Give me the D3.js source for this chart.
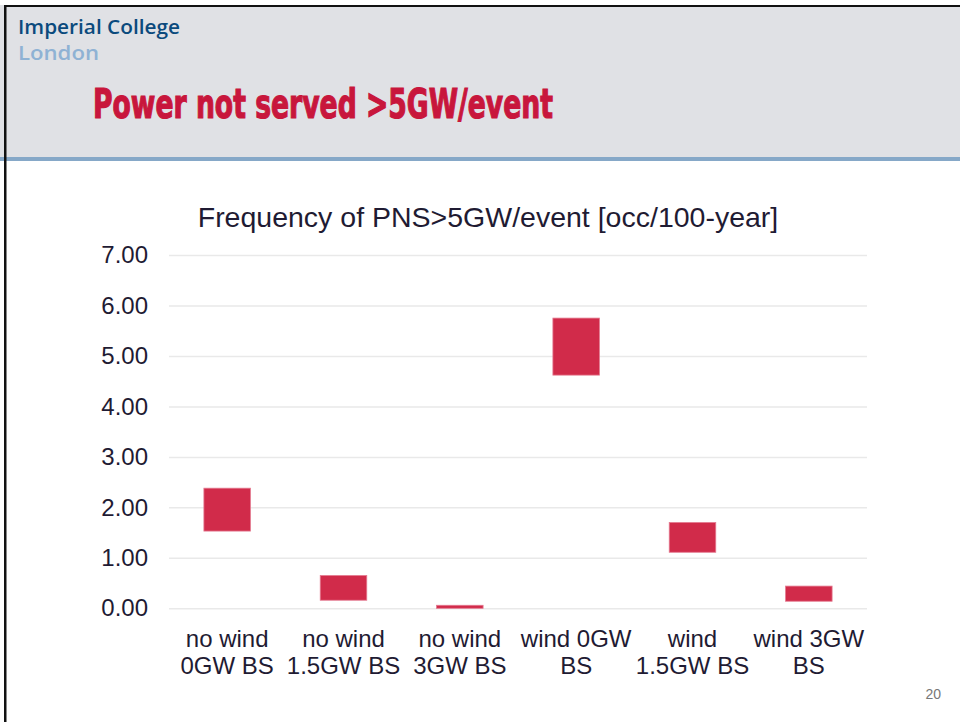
<!DOCTYPE html>
<html>
<head>
<meta charset="utf-8">
<script src="https://cdn.jsdelivr.net/npm/d3@7"></script>
<style>
  body { margin: 0; background: #fff; }
  svg { display: block; }
</style>
</head>
<body>
<div id="chart"></div>
<script>
// chart data
var categories = ["no wind|0GW BS", "no wind|1.5GW BS", "no wind|3GW BS", "wind 0GW|BS", "wind|1.5GW BS", "wind 3GW|BS"];
var lowValues = [1.53, 0.16, 0.00, 4.62, 1.11, 0.14];
var highValues = [2.38, 0.65, 0.06, 5.75, 1.70, 0.44];
var yTicks = [0, 1, 2, 3, 4, 5, 6, 7];

var W = 960, H = 722;
var svg = d3.select("#chart").append("svg").attr("width", W).attr("height", H);

// slide header
svg.append("rect").attr("x", 0).attr("y", 0).attr("width", W).attr("height", 158).style("fill", "#e0e1e5");
svg.append("rect").attr("x", 0).attr("y", 157).attr("width", W).attr("height", 4).style("fill", "#86a8c8");
svg.append("rect").attr("x", 0).attr("y", 0).attr("width", W).attr("height", 5).style("fill", "#fff");
svg.append("rect").attr("x", 4).attr("y", 5).attr("width", W).attr("height", 2).style("fill", "#111");
svg.append("rect").attr("x", 4).attr("y", 5).attr("width", 2.5).attr("height", H).style("fill", "#111");

svg.append("text").attr("x", 18).attr("y", 34)
  .attr("textLength", 162).attr("lengthAdjust", "spacingAndGlyphs")
  .style("font-family", "'Open Sans', sans-serif").style("font-size", "20px").style("font-weight", 600)
  .style("fill", "#0b4a7d").text("Imperial College");
svg.append("text").attr("x", 18).attr("y", 60)
  .attr("textLength", 81).attr("lengthAdjust", "spacingAndGlyphs")
  .style("font-family", "'Open Sans', sans-serif").style("font-size", "20px").style("font-weight", 600)
  .style("fill", "#8fb2d4").text("London");

svg.append("text").attr("x", 93).attr("y", 118)
  .attr("textLength", 460).attr("lengthAdjust", "spacingAndGlyphs")
  .style("font-family", "'Liberation Sans Narrow', 'DejaVu Sans Condensed', sans-serif")
  .style("font-size", "41px").style("font-weight", "bold")
  .style("fill", "#c8163c").style("stroke", "#c8163c").style("stroke-width", 1.2)
  .text("Power not served >5GW/event");

// chart
var x = d3.scaleBand().domain(categories).range([169, 867]);
var y = d3.scaleLinear().domain([0, 7]).range([608.3, 255]);
var textColor = "#1f1b33";

svg.append("text").attr("x", 488).attr("y", 227).attr("text-anchor", "middle")
  .style("font-family", "'Liberation Sans', Arial, sans-serif").style("font-size", "28.5px")
  .style("fill", textColor).text("Frequency of PNS>5GW/event [occ/100-year]");

var yAxis = d3.axisLeft(y).tickValues(yTicks).tickSize(-(867 - 169)).tickPadding(21)
  .tickFormat(d3.format(".2f"));
var gy = svg.append("g").attr("transform", "translate(169,0)").call(yAxis);
gy.select(".domain").remove();
gy.selectAll("line").style("stroke", "#e9e9e9").style("stroke-width", 1.5);
gy.selectAll("text")
  .style("font-family", "'Liberation Sans', Arial, sans-serif").style("font-size", "24px")
  .style("fill", textColor);

var barW = x.bandwidth() * 0.4;
svg.selectAll("rect.bar")
  .data(categories)
  .enter()
  .append("rect")
  .attr("class", "bar")
  .attr("x", function (d) { return x(d) + (x.bandwidth() - barW) / 2; })
  .attr("y", function (d, i) { return y(highValues[i]); })
  .attr("width", barW)
  .attr("height", function (d, i) { return Math.max(1, y(lowValues[i]) - y(highValues[i])); })
  .style("fill", "#d12b4a")
  .style("stroke", "#e47a90")
  .style("stroke-width", 0.8);

var xl = svg.selectAll("text.xlab")
  .data(categories)
  .enter()
  .append("text")
  .attr("class", "xlab")
  .attr("text-anchor", "middle")
  .style("font-family", "'Liberation Sans', Arial, sans-serif").style("font-size", "24px")
  .style("fill", textColor);
xl.each(function (d) {
  var parts = d.split("|");
  var t = d3.select(this);
  parts.forEach(function (p, k) {
    t.append("tspan").attr("x", x(d) + x.bandwidth() / 2).attr("y", 647 + k * 27).text(p);
  });
});

svg.append("text").attr("x", 941).attr("y", 699).attr("text-anchor", "end")
  .style("font-family", "'Liberation Sans', Arial, sans-serif").style("font-size", "14px")
  .style("fill", "#777").text("20");
</script>
</body>
</html>
